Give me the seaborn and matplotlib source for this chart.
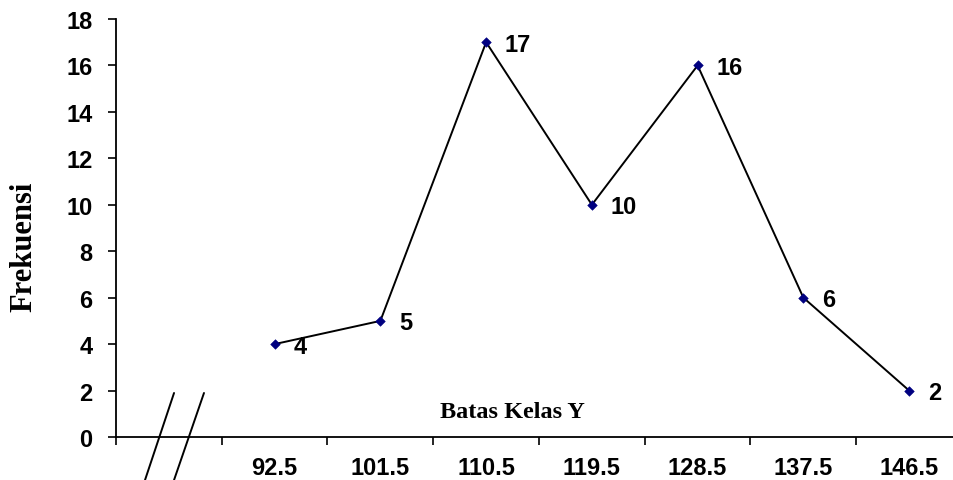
import matplotlib
matplotlib.use("Agg")
import matplotlib.pyplot as plt
import seaborn as sns
import numpy as np
import pandas as pd
from matplotlib.lines import Line2D

# Class boundaries (Batas Kelas Y) and their frequencies
tick_labels = ["", "92.5", "101.5", "110.5", "119.5", "128.5", "137.5", "146.5"]
batas_kelas = ["92.5", "101.5", "110.5", "119.5", "128.5", "137.5", "146.5"]
frekuensi = [4, 5, 17, 10, 16, 6, 2]
y_ticks = [0, 2, 4, 6, 8, 10, 12, 14, 16, 18]

sns.set_theme(style="white")
plt.rcParams["font.family"] = ["Liberation Sans", "DejaVu Sans"]
plt.rcParams["text.color"] = "black"
plt.rcParams["xtick.color"] = "black"
plt.rcParams["ytick.color"] = "black"

df = pd.DataFrame({
    "pos": [tick_labels.index(b) for b in batas_kelas],
    "frekuensi": frekuensi,
})

fig = plt.figure(figsize=(9.54, 4.81), dpi=100)
ax = fig.add_axes([116 / 954, 1 - 438 / 481, 846 / 954, 418 / 481])

sns.lineplot(data=df, x="pos", y="frekuensi", ax=ax, color="black",
             linewidth=1.4, zorder=2)
sns.scatterplot(data=df, x="pos", y="frekuensi", ax=ax, marker="D",
                color="#000080", edgecolor="#000080", s=24, zorder=3)

for _, row in df.iterrows():
    ax.annotate(f"{row['frekuensi']:g}", (row["pos"], row["frekuensi"]),
                xytext=(13.5, -1.5), textcoords="offset points",
                ha="left", va="center", fontsize=17, fontweight="bold",
                color="black")

ax.set_xlim(-0.5, len(tick_labels) - 0.5)
ax.set_ylim(0, 18)

# Category boundaries carry the tick marks, category centres carry the labels
ax.set_xticks(np.arange(len(tick_labels)) - 0.5)
ax.set_xticklabels([])
ax.set_xticks(np.arange(len(tick_labels)), minor=True)
ax.set_xticklabels(tick_labels, minor=True, fontsize=17, fontweight="bold",
                   color="black")
ax.tick_params(axis="x", which="major", direction="out", length=6,
               width=1.2, color="black", bottom=True)
ax.tick_params(axis="x", which="minor", length=0, pad=14)

ax.set_yticks(y_ticks)
ax.set_yticklabels([str(v) for v in y_ticks], fontsize=17, fontweight="bold",
                   color="black")
ax.tick_params(axis="y", direction="out", length=6, width=1.2,
               color="black", pad=11, left=True)

for side in ["top", "right"]:
    ax.spines[side].set_visible(False)
for side in ["left", "bottom"]:
    ax.spines[side].set_color("black")
    ax.spines[side].set_linewidth(1.3)

ax.set_xlabel("")
ax.set_ylabel("")

# Axis break symbol across the horizontal axis
for x_top, x_bot in [(0.0686, 0.0343), (0.104, 0.0686)]:
    ax.add_line(Line2D([x_top, x_bot], [0.1053, -0.1029],
                       transform=ax.transAxes, color="black",
                       linewidth=1.4, clip_on=False))

fig.text(512 / 954, 1 - 413 / 481, "Batas Kelas Y", ha="center",
         va="center", fontsize=17.5, fontweight="bold", color="black",
         family=["Liberation Serif", "DejaVu Serif"])
fig.text(24 / 954, 1 - 247 / 481, "Frekuensi", ha="center", va="center",
         rotation=90, fontsize=22, fontweight="bold", color="black",
         family=["Liberation Serif", "DejaVu Serif"])

fig.savefig("out.png", dpi=100, facecolor="white")
